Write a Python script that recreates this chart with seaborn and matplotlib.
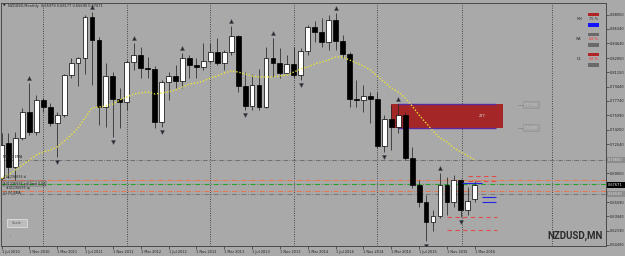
import numpy as np
import pandas as pd
import matplotlib
matplotlib.use("Agg")
import matplotlib.pyplot as plt
import seaborn as sns
from matplotlib.patches import Rectangle
from matplotlib.lines import Line2D

# ---------------- data ----------------
months = pd.date_range("2010-07-01", "2016-03-01", freq="MS")
opens = [0.6851,0.7269,0.6982,0.7329,0.7640,0.7401,0.7784,0.7700,0.7509,0.7604,
         0.8083,0.8227,0.8286,0.8777,0.8502,0.7700,0.8071,0.7796,0.7760,0.8239,
         0.8322,0.8167,0.8155,0.7521,0.7999,0.8071,0.8011,0.8286,0.8203,0.8179,
         0.8251,0.8358,0.8227,0.8358,0.8550,0.7951,0.7712,0.7963,0.7700,0.8286,
         0.8227,0.8107,0.8215,0.8083,0.8370,0.8657,0.8598,0.8478,0.8741,0.8490,
         0.8334,0.7796,0.7784,0.7832,0.7796,0.7233,0.7557,0.7461,0.7604,0.7090,
         0.6767,0.6563,0.6324,0.6396,0.6767,0.6563,0.6827,0.6468,0.6598]
highs = [0.7389,0.7389,0.7401,0.7688,0.7987,0.7844,0.7808,0.7748,0.7640,0.8095,
         0.8286,0.8298,0.8801,0.8837,0.8538,0.8227,0.8119,0.7928,0.8263,0.8466,
         0.8418,0.8298,0.8191,0.8023,0.8119,0.8203,0.8346,0.8322,0.8286,0.8466,
         0.8466,0.8526,0.8382,0.8669,0.8562,0.8119,0.8095,0.8155,0.8418,0.8526,
         0.8406,0.8322,0.8418,0.8406,0.8681,0.8729,0.8765,0.8801,0.8825,0.8562,
         0.8358,0.8023,0.7963,0.7880,0.7880,0.7604,0.7724,0.7736,0.7640,0.7222,
         0.6827,0.6647,0.6468,0.6911,0.6863,0.6887,0.6839,0.6743,0.6818]
lows = [0.6827,0.6851,0.6827,0.7305,0.7365,0.7365,0.7640,0.7473,0.7102,0.7581,
        0.8047,0.7951,0.8095,0.7963,0.7485,0.7461,0.7341,0.7449,0.7664,0.8143,
        0.8047,0.8047,0.7449,0.7461,0.7784,0.7928,0.7928,0.8047,0.8047,0.8143,
        0.8227,0.8203,0.8143,0.8322,0.7880,0.7664,0.7664,0.7664,0.7688,0.8059,
        0.8047,0.8095,0.8047,0.8023,0.8322,0.8478,0.8418,0.8382,0.8382,0.8286,
        0.7700,0.7700,0.7640,0.7509,0.7210,0.7162,0.7186,0.7389,0.7066,0.6731,
        0.6504,0.6097,0.6217,0.6372,0.6408,0.6504,0.6384,0.6408,0.6569]
closes = [0.7245,0.6982,0.7329,0.7640,0.7401,0.7784,0.7700,0.7509,0.7604,0.8083,
          0.8227,0.8286,0.8777,0.8502,0.7700,0.8071,0.7796,0.7760,0.8239,0.8322,
          0.8167,0.8155,0.7521,0.7999,0.8071,0.8011,0.8286,0.8203,0.8179,0.8251,
          0.8358,0.8227,0.8358,0.8550,0.7951,0.7712,0.7963,0.7700,0.8286,0.8227,
          0.8107,0.8215,0.8083,0.8370,0.8657,0.8598,0.8478,0.8741,0.8490,0.8334,
          0.7796,0.7784,0.7832,0.7796,0.7233,0.7557,0.7461,0.7604,0.7090,0.6767,
          0.6563,0.6324,0.6396,0.6767,0.6563,0.6827,0.6468,0.6575,0.6767]
ma_values = [0.6845,0.6887,0.6946,0.7006,0.7066,0.7126,0.7162,0.7186,0.7222,0.7293,
             0.7365,0.7449,0.7569,0.7688,0.7700,0.7712,0.7736,0.7784,0.7820,0.7856,
             0.7868,0.7880,0.7856,0.7868,0.7880,0.7904,0.7940,0.7975,0.7987,0.8011,
             0.8047,0.8071,0.8107,0.8131,0.8119,0.8095,0.8071,0.8059,0.8059,0.8059,
             0.8071,0.8083,0.8119,0.8155,0.8179,0.8215,0.8239,0.8263,0.8298,0.8298,
             0.8263,0.8227,0.8191,0.8143,0.8071,0.7999,0.7928,0.7880,0.7808,0.7712,
             0.7604,0.7509,0.7413,0.7329,0.7281,0.7210,0.7162,0.7114,0.7066]
fractal_up = [4, 13, 19, 26, 33, 39, 48, 57, 63]
fractal_down = [8, 16, 23, 35, 43, 55, 61, 66]
price_ticks = [0.60490, 0.62190, 0.63940, 0.65590, 0.69050, 0.72540, 0.74250, 0.75990,
               0.77740, 0.79440, 0.81150, 0.82850, 0.84640, 0.86340, 0.88050]
year_lines = [6, 18, 30, 42, 54, 66.2, 79.1]
ma_level = 0.70660
order_levels = [0.6821, 0.6773, 0.6701, 0.6659]
order_colors = ["#e8774e", "#2e9e2e", "#e8774e", "#7a7a7a"]
zone_top, zone_bottom = 0.7736, 0.7449
zone_span = (55.95, 72.05)
zone_edge_span = (57.0, 71.0)
zone_text = "277"
red_upper = [0.6875, 0.6815]
red_lower = [0.6388, 0.6229]
blue_upper = [0.6787]
blue_lower = [0.6620, 0.6560]
bid_price = 0.67671
title = "NZDUSD,Monthly  0.65979 0.68177 0.65690 0.67671"

# ---------------- figure ----------------
W, H = 625, 256
BG = "#a9a9a9"
sns.set_theme(style="white", rc={"axes.facecolor": BG, "figure.facecolor": BG})
plt.rcParams["font.family"] = ["DejaVu Sans"]

fig = plt.figure(figsize=(W / 100, H / 100), dpi=100, facecolor=BG)
ax = fig.add_axes([1 / W, (H - 246) / H, 605 / W, 243 / H])
ax.set_facecolor(BG)

def P(px, py):
    return (px / W, 1 - py / H)

idx = np.arange(len(opens))
o = np.array(opens); h = np.array(highs); l = np.array(lows); c = np.array(closes)
bull = c >= o

# grid lines (yearly)
for xv in year_lines:
    ax.axvline(xv, color="#2e2e2e", lw=0.7, ls=(0, (0.8, 1.6)), zorder=1)

# horizontal level lines
dashdot = (0, (4.5, 1.5, 0.8, 1.5))
ax.axhline(ma_level, color="#6e6e6e", lw=0.7, ls=dashdot, zorder=1)
for lv, col in zip(order_levels, order_colors):
    ax.axhline(lv, color=col, lw=0.8, ls=dashdot, zorder=1)

# supply zone
ax.add_patch(Rectangle((zone_span[0], zone_bottom), zone_span[1] - zone_span[0],
                       zone_top - zone_bottom, facecolor="#a52626", edgecolor="none", zorder=2))
ax.hlines([zone_top, zone_bottom], zone_edge_span[0], zone_edge_span[1],
          color="#5a2aa0", lw=1.0, zorder=2.5)
ax.text(69.0, (zone_top + zone_bottom) / 2, zone_text, color="#e6e6e6", fontsize=2.6,
        ha="center", va="center", zorder=6)

# candles
ax.vlines(idx, l, h, color="#262626", lw=0.55, zorder=3)
body_lo = np.minimum(o, c)
body_h = np.maximum(np.abs(c - o), 0.0006)
ax.bar(idx[bull], body_h[bull], bottom=body_lo[bull], width=0.7, color="white",
       edgecolor="black", linewidth=0.5, zorder=4)
ax.bar(idx[~bull], body_h[~bull], bottom=body_lo[~bull], width=0.7, color="black",
       edgecolor="black", linewidth=0.5, zorder=4)

# moving average
sns.lineplot(x=idx, y=ma_values, ax=ax, color="#ece43a", lw=1.0, ls=(0, (1, 1.3)), zorder=5)

# fractals
up_x = np.array(fractal_up); dn_x = np.array(fractal_down)
sns.scatterplot(x=up_x, y=h[up_x] + 0.0062, ax=ax, marker="^", s=10, color="#262626",
                edgecolor="#6a7080", linewidth=0.3, zorder=6)
sns.scatterplot(x=dn_x, y=l[dn_x] - 0.0062, ax=ax, marker="v", s=10, color="#262626",
                edgecolor="#6a7080", linewidth=0.3, zorder=6)

# red dashed targets and blue lines
ax.hlines(red_upper, 67.0, 71.2, color="#e24a4a", lw=0.8, ls=(0, (4, 3)), zorder=5)
ax.hlines(red_lower, 64.0, 71.2, color="#e24a4a", lw=0.8, ls=(0, (4, 3)), zorder=5)
ax.hlines(blue_upper, 66.2, 69.0, color="#2424e0", lw=0.8, zorder=5)
ax.hlines(blue_lower, 69.0, 71.0, color="#2424e0", lw=0.8, zorder=5)

# axes
ax.set_xlim((1 - 1.5) / 6.96, (606 - 1.5) / 6.96)
ax.set_ylim(0.89804 - 0.0011965 * 246, 0.89804 - 0.0011965 * 3)
ax.set_xticks(idx[::4])
ax.set_xticklabels([f"1 {m.strftime('%b %Y')}" for m in months[::4]], ha="left")
ax.yaxis.tick_right()
ax.set_yticks(price_ticks)
ax.set_yticklabels([f"{v:.5f}" for v in price_ticks])
ax.tick_params(axis="x", length=2, width=0.5, color="#333333", labelsize=2.5,
               labelcolor="#1e1e1e", pad=0.8, direction="out", bottom=True)
ax.tick_params(axis="y", length=2, width=0.5, color="#333333", labelsize=2.5,
               labelcolor="#1e1e1e", pad=0.8, right=True, left=False, direction="out")
for s in ax.spines.values():
    s.set_color("#4a4a4a"); s.set_linewidth(0.7)
ax.set_xlabel(""); ax.set_ylabel("")
ax.grid(False)

# right axis price boxes
def price_box(py, txt, fc, tc):
    fig.add_artist(Rectangle(P(607, py + 3), 18 / W, 6 / H, transform=fig.transFigure,
                             facecolor=fc, edgecolor="none", zorder=5))
    fig.text(*P(608, py), txt, fontsize=2.5, color=tc, va="center", ha="left", zorder=6)

price_box(160, f"{ma_level:.5f}", "#8c8c8c", "#dcdcdc")
price_box(185, f"{bid_price:.5f}", "#000000", "#ffffff")
price_box(194, f"{order_levels[3]:.5f}", "#8c8c8c", "#dcdcdc")

# zone price labels
for py, val in [(104.5, zone_top), (127.7, zone_bottom)]:
    fig.add_artist(Line2D([518 / W, 523 / W], [1 - py / H] * 2, color="#8a8a8a", lw=0.6))
    fig.add_artist(Rectangle(P(523, py + 3.5), 16 / W, 7 / H, transform=fig.transFigure,
                             facecolor="#a2a2a2", edgecolor="#909090", lw=0.4))
    fig.text(*P(531, py), f"{val:.5f}", fontsize=2.4, color="#c9c9c9", ha="center", va="center")

# title
fig.text(*P(3, 5.5), "\u25bc", fontsize=2.4, color="#202020", va="center")
fig.text(*P(8, 5.5), title, fontsize=2.5, color="#202020", va="center")

# left labels
fig.text(*P(3, 157), "MA 20 EMA", fontsize=2.4, color="#202020", va="center")
fig.text(*P(3, 177.5), "#41236693 sl", fontsize=2.3, color="#202020", va="center")
fig.text(*P(3, 183.8), "#41236693 sell limit 0.04", fontsize=2.3, color="#202020", va="center",
         bbox=dict(boxstyle="square,pad=0.1", fc="none", ec="#3a3a3a", lw=0.3))
fig.text(*P(6, 188.5), "#41236693 tp", fontsize=2.3, color="#202020", va="center")
fig.text(*P(3, 193), "$1.00 BMA", fontsize=2.3, color="#202020", va="center")

# scale button
fig.add_artist(Rectangle(P(7, 227), 20 / W, 8 / H, transform=fig.transFigure,
                         facecolor="#bdbdbd", edgecolor="#e8e8e8", lw=0.5))
fig.text(*P(17, 223), "Scale", fontsize=2.6, color="#555555", ha="center", va="center")
fig.text(*P(10.5, 236), ".", fontsize=3, color="#000000", ha="center", va="center")

# top-right strength panel
rows = [("MN", 19, "#b02424", "75 %", "#2a2a2a", "#1414ff"),
        ("WK", 39, "#6a6a6a", "68 %", "#ff2e2e", "#6a6a6a"),
        ("D1", 59, "#b02424", "68 %", "#ff2e2e", "#6a6a6a")]
for name, py, top_c, pct, pct_c, bot_c in rows:
    fig.text(*P(582, py), name, fontsize=2.5, color="#2a2a2a", ha="right", va="center")
    fig.add_artist(Rectangle(P(588, py - 3), 11 / W, 3.5 / H, transform=fig.transFigure,
                             facecolor=top_c, edgecolor="none"))
    fig.add_artist(Rectangle(P(588, py + 7.5), 11 / W, 3.5 / H, transform=fig.transFigure,
                             facecolor=bot_c, edgecolor="none"))
    fig.text(*P(593.5, py), pct, fontsize=2.5, color=pct_c, ha="center", va="center")

# watermark
fig.text(*P(575, 235.5), "NZDUSD,MN", fontsize=7.0, fontweight="bold",
         family=["Roboto", "DejaVu Sans"], color="#2c2c2c",
         ha="center", va="center")

fig.savefig("out.png", dpi=100, facecolor=BG)
